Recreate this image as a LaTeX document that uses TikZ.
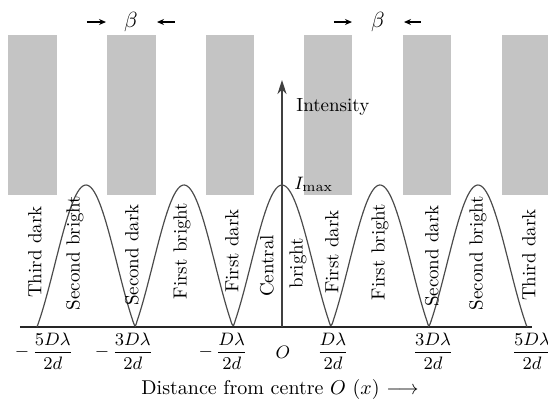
\documentclass[tikz,border=0pt]{standalone}
\usepackage{amsmath}
\usetikzlibrary{arrows.meta,positioning}

\begin{document}
\begin{tikzpicture}[x=0.5pt,y=-0.5pt,
    fringe/.style={fill=black!23},
    region/.style={rotate=90,inner sep=0pt,font=\fontsize{9.5}{11}\selectfont},
    tick/.style={inner sep=0pt,font=\fontsize{9.5}{11}\selectfont},
    width arrow/.style={-{Stealth[length=3.5pt,width=3pt]},line width=0.6pt}]
  \useasboundingbox (0,0) rectangle (548,403);
  % fringes on the screen
  \foreach \x/\w in {8/49,107/49,206/48,304/48,403/48,502/46}
    \fill[fringe] (\x,35) rectangle ++(\w,160);
  % fringe width
  \node[tick,font=\fontsize{11}{12}\selectfont] (beta1) at (131,22) {$\beta$};
  \node[tick,font=\fontsize{11}{12}\selectfont] (beta2) at (378,22) {$\beta$};
  \coordinate (b1l) at (87,22);  \coordinate (b1le) at (106,22);
  \coordinate (b1r) at (175,22); \coordinate (b1re) at (157,22);
  \coordinate (b2l) at (334,22); \coordinate (b2le) at (352,22);
  \coordinate (b2r) at (421,22); \coordinate (b2re) at (404,22);
  \draw[width arrow] (b1l) -- (b1le);
  \draw[width arrow] (b1r) -- (b1re);
  \draw[width arrow] (b2l) -- (b2le);
  \draw[width arrow] (b2r) -- (b2re);
  % axis and intensity
  \coordinate (xl) at (20,327);
  \coordinate (xr) at (532,327);
  \coordinate (O) at (282,327);
  \coordinate (Itop) at (282,80);
  \draw[line width=0.8pt,black!85] (xl) -- (xr);
  \draw[line width=1pt,black!75,-{Stealth[length=7pt,width=4.5pt]}] (O) -- (Itop);
  \node[tick,anchor=west] (intensity) at (296,107) {Intensity};
  \node[tick,anchor=west] (imax) at (294,184) {$I_{\max}$};
  % intensity curve
  \draw[line width=0.6pt,black!70] plot[domain=37:527,samples=300,smooth]
    (\x,{327-142*abs(cos((\x-282)/98*180))*(0.6+0.4*abs(cos((\x-282)/98*180)))});
  % fringe names
  \node[region] (d3l) at (35,252)  {Third dark};
  \node[region] (b2l) at (75,253)  {Second bright};
  \node[region] (d2l) at (132,255) {Second dark};
  \node[region] (b1l) at (182,251) {First bright};
  \node[region] (d1l) at (232,251) {First dark};
  \node[region] (b0a) at (267,266) {Central};
  \node[region] (b0b) at (298,263) {bright};
  \node[region] (d1r) at (332,252) {First dark};
  \node[region] (b1r) at (380,252) {First bright};
  \node[region] (d2r) at (432,256) {Second dark};
  \node[region] (b2r) at (478,253) {Second bright};
  \node[region] (d3r) at (529,255) {Third dark};
  % positions of the dark fringes
  \node[tick] (x5l) at (44,351)  {$-\,\dfrac{5D\lambda}{2d}$};
  \node[tick] (x3l) at (124,351) {$-\,\dfrac{3D\lambda}{2d}$};
  \node[tick] (x1l) at (223,351) {$-\,\dfrac{D\lambda}{2d}$};
  \node[tick] (x0)  at (283,352) {$O$};
  \node[tick] (x1r) at (333,351) {$\dfrac{D\lambda}{2d}$};
  \node[tick] (x3r) at (433,351) {$\dfrac{3D\lambda}{2d}$};
  \node[tick] (x5r) at (532,351) {$\dfrac{5D\lambda}{2d}$};
  \node[tick,font=\fontsize{10}{12}\selectfont] (dist) at (280,389) {Distance from centre $O$ $(x)$ $\longrightarrow$};
\end{tikzpicture}
\end{document}
